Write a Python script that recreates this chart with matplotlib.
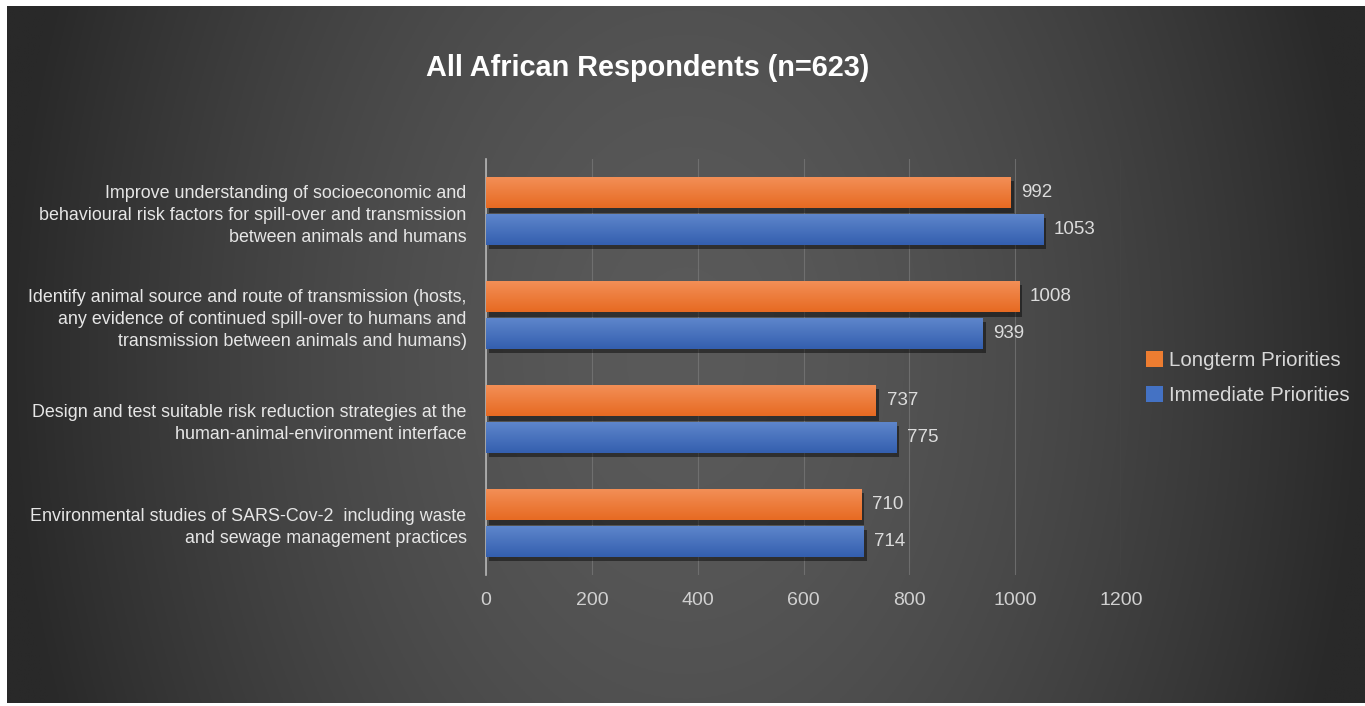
import numpy as np
import matplotlib
matplotlib.use("Agg")
import matplotlib.pyplot as plt
import matplotlib.patheffects as pe
from matplotlib.patches import Patch

# ==== DATA ====
categories = [
    "Improve understanding of socioeconomic and\nbehavioural risk factors for spill-over and transmission\nbetween animals and humans",
    "Identify animal source and route of transmission (hosts,\nany evidence of continued spill-over to humans and\ntransmission between animals and humans)",
    "Design and test suitable risk reduction strategies at the\nhuman-animal-environment interface",
    "Environmental studies of SARS-Cov-2  including waste\nand sewage management practices",
]
longterm = [992, 1008, 737, 710]
immediate = [1053, 939, 775, 714]
series_names = ["Longterm Priorities", "Immediate Priorities"]
xticks = [0, 200, 400, 600, 800, 1000, 1200]

plt.rcParams["font.family"] = ["Liberation Sans", "DejaVu Sans"]

fig = plt.figure(figsize=(13.65, 7.06), dpi=100)
fig.patch.set_facecolor("white")

# ==== FONDO (degradado radial) ====
bg = fig.add_axes([7 / 1365, 3 / 706, 1 - 7 / 1365, 1 - 9 / 706])
bg.set_axis_off()
gx, gy = np.meshgrid(np.linspace(-1, 1, 600), np.linspace(-1, 1, 300))
r = np.sqrt(gx ** 2 + (0.35 * gy) ** 2)
r = np.clip(r, 0, 1)
c0, c1 = 0x5a / 255, 0x29 / 255
val = c0 + (c1 - c0) * r ** 1.6
bg.imshow(np.dstack([val, val, val]), aspect="auto", extent=[0, 1, 0, 1])
bg.set_xlim(0, 1)
bg.set_ylim(0, 1)

# ==== GRÁFICO ====
ax = fig.add_axes([486 / 1365, 131 / 706, 635 / 1365, 416 / 706])
ax.set_facecolor("none")

y = np.arange(len(categories))
h = 0.3
off = 0.175
orange, blue = "#ED7D31", "#4472C4"
grads = {orange: ("#F39058", "#E76A22"), blue: ("#5F87CC", "#345FAF")}

shadow = [pe.SimplePatchShadow(offset=(2, -3), shadow_rgbFace="black", alpha=0.45), pe.Normal()]
b1 = ax.barh(y - off, longterm, height=h, color=orange, path_effects=shadow, zorder=3)
b2 = ax.barh(y + off, immediate, height=h, color=blue, path_effects=shadow, zorder=3)

# degradado vertical en cada barra
for bars, col in [(b1, orange), (b2, blue)]:
    top, bot = grads[col]
    t = np.array(matplotlib.colors.to_rgb(top))
    b = np.array(matplotlib.colors.to_rgb(bot))
    g = np.linspace(0, 1, 50)[:, None, None]
    img = (t * (1 - g) + b * g) * np.ones((1, 2, 3))
    for p in bars:
        x0, y0 = p.get_x(), p.get_y()
        im = ax.imshow(img, extent=[x0, x0 + p.get_width(), y0 + p.get_height(), y0],
                       aspect="auto", zorder=4, interpolation="bilinear")
        im.set_clip_path(p)
ax.set_xlim(0, 1200)
ax.set_ylim(len(categories) - 0.5, -0.5)

# etiquetas de valor
for bars, vals in [(b1, longterm), (b2, immediate)]:
    for p, v in zip(bars, vals):
        ax.text(p.get_width() + 20, p.get_y() + p.get_height() / 2, str(v),
                va="center", ha="left", color="#dcdcdc", fontsize=13.5, zorder=5)

ax.set_xticks(xticks)
ax.set_xticklabels([str(t) for t in xticks])
ax.set_yticks(y)
ax.set_yticklabels(categories, linespacing=1.4)
ax.tick_params(axis="y", length=0, pad=14, labelsize=12.9, labelcolor="#e6e6e6")
ax.tick_params(axis="x", length=0, pad=12, labelsize=14, labelcolor="#d0d0d0")
for lbl in ax.get_yticklabels():
    lbl.set_horizontalalignment("right")

ax.grid(axis="x", color="#7a7a7a", linewidth=0.8, alpha=0.7, zorder=0)
for s in ["top", "right", "bottom"]:
    ax.spines[s].set_visible(False)
ax.spines["left"].set_color("#b5b5b5")
ax.spines["left"].set_linewidth(1.2)

fig.text(648 / 1365, 1 - 68 / 706, "All African Respondents (n=623)", ha="center", va="center",
         color="white", fontsize=20.8, fontweight="bold")

handles = [Patch(facecolor=orange), Patch(facecolor=blue)]
fig.legend(handles, series_names, loc="center left", bbox_to_anchor=(1127 / 1365, 1 - 378 / 706),
           frameon=False, fontsize=14.8, labelcolor="#d8d8d8", handlelength=0.85, handleheight=0.85,
           handletextpad=0.3, labelspacing=0.75)

fig.savefig("out.png", dpi=100, facecolor=fig.get_facecolor())
